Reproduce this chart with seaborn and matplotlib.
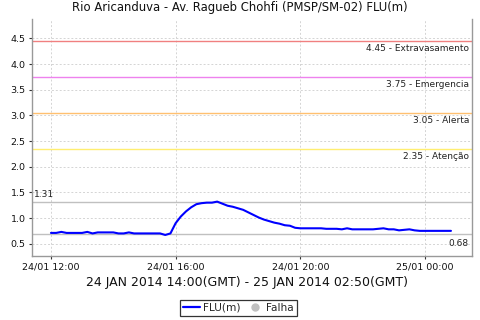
import matplotlib
matplotlib.use("Agg")
import matplotlib.pyplot as plt
import matplotlib.dates as mdates
from matplotlib.lines import Line2D
import seaborn as sns
import pandas as pd
import numpy as np

title = "Rio Aricanduva - Av. Ragueb Chohfi (PMSP/SM-02) FLU(m)"
subtitle = "24 JAN 2014 14:00(GMT) - 25 JAN 2014 02:50(GMT)"

start_time = "2014-01-24 12:00"
step = "10min"
flu = [0.71, 0.71, 0.73, 0.71, 0.71, 0.71, 0.71, 0.73, 0.70, 0.72,
       0.72, 0.72, 0.72, 0.70, 0.70, 0.72, 0.70, 0.70, 0.70, 0.70,
       0.70, 0.70, 0.67, 0.70, 0.90, 1.03, 1.13, 1.21, 1.27, 1.29,
       1.30, 1.30, 1.32, 1.28, 1.24, 1.22, 1.19, 1.16, 1.11, 1.06,
       1.01, 0.97, 0.94, 0.91, 0.89, 0.86, 0.85, 0.81, 0.80, 0.80,
       0.80, 0.80, 0.80, 0.79, 0.79, 0.79, 0.78, 0.80, 0.78, 0.78,
       0.78, 0.78, 0.78, 0.79, 0.80, 0.78, 0.78, 0.76, 0.77, 0.78,
       0.76, 0.75, 0.75, 0.75, 0.75, 0.75, 0.75, 0.75]

thresholds = [4.45, 3.75, 3.05, 2.35]
threshold_names = ["Extravasamento", "Emergencia", "Alerta", "Atenção"]
threshold_colors = ["#F08080", "#EE82EE", "#FFC070", "#FFEE70"]
max_val = 1.31
min_val = 0.68

times = pd.date_range(start_time, periods=len(flu), freq=step)
df = pd.DataFrame({"time": times, "FLU(m)": flu})

sns.set_theme(style="white")
plt.rcParams['font.family'] = ['DejaVu Sans']

fig = plt.figure(figsize=(4.8, 3.2), dpi=100)
ax = fig.add_axes([32/480, 1-256/320, 440/480, 237/320])

# grid
ax.set_axisbelow(True)
ax.grid(True, color="#D4D4D4", linestyle=(0, (2, 2)), linewidth=0.7)

for v, c in zip(thresholds, threshold_colors):
    ax.axhline(v, color=c, linewidth=1.0, zorder=2)
for v in (max_val, min_val):
    ax.axhline(v, color="#C0C0C0", linewidth=1.0, zorder=2)

sns.lineplot(data=df, x="time", y="FLU(m)", color="#0000FF", linewidth=1.5,
             ax=ax, zorder=3, legend=False)

for v, n in zip(thresholds, threshold_names):
    ax.annotate(f"{v:.2f} - {n}", xy=(0.993, v), xycoords=("axes fraction", "data"),
                xytext=(0, -5.5), textcoords="offset points", ha="right", va="center",
                fontsize=6.5, color="#222222")
ax.annotate(f"{max_val:.2f}", xy=(0.005, max_val), xycoords=("axes fraction", "data"),
            xytext=(0, 5.5), textcoords="offset points", ha="left", va="center",
            fontsize=6.5, color="#222222")
ax.annotate(f"{min_val:.2f}", xy=(0.993, min_val), xycoords=("axes fraction", "data"),
            xytext=(0, -6.5), textcoords="offset points", ha="right", va="center",
            fontsize=6.5, color="#222222")

ax.set_ylim(0.26, 4.88)
ax.set_yticks([0.5, 1.0, 1.5, 2.0, 2.5, 3.0, 3.5, 4.0, 4.5])
ax.yaxis.set_major_formatter(matplotlib.ticker.FormatStrFormatter("%.1f"))
ax.set_xlim(pd.Timestamp("2014-01-24 11:23:30"), pd.Timestamp("2014-01-25 01:30:30"))
ax.xaxis.set_major_locator(mdates.HourLocator(byhour=[0, 4, 8, 12, 16, 20]))
ax.xaxis.set_major_formatter(mdates.DateFormatter("%d/%m %H:%M"))

ax.tick_params(axis="both", which="major", labelsize=6.8, colors="#333333",
               length=2.5, width=0.8, direction="out", pad=2, left=True, bottom=True)
for lab in ax.get_xticklabels() + ax.get_yticklabels():
    lab.set_color("#111111")
ax.set_xlabel("")
ax.set_ylabel("")
for s in ("left", "bottom", "right"):
    ax.spines[s].set_color("#999999")
    ax.spines[s].set_linewidth(1.0)
ax.spines["top"].set_visible(False)

fig.text(0.5, 0.975, title, ha="center", va="center", fontsize=8.4, color="#111111")
fig.text(0.515, 0.116, subtitle, ha="center", va="center", fontsize=9.0, color="#111111")

handles = [Line2D([0], [0], color="#0000FF", linewidth=1.6),
           Line2D([0], [0], marker="o", linestyle="None", markersize=5,
                  markerfacecolor="#C0C0C0", markeredgecolor="#C0C0C0")]
leg = fig.legend(handles, ["FLU(m)", "Falha"], loc="center", bbox_to_anchor=(0.497, 0.0375),
                 ncol=2, frameon=True, fontsize=7.6, handlelength=1.6, handletextpad=0.3,
                 columnspacing=0.5, borderpad=0.3, fancybox=False, borderaxespad=0)
leg.get_frame().set_edgecolor("#000000")
leg.get_frame().set_linewidth(0.9)

fig.savefig("out.png", dpi=100)
